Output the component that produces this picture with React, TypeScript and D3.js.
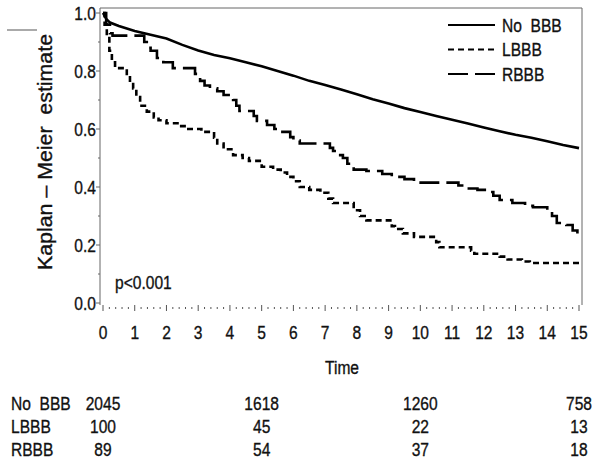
import React from "react";
import * as d3 from "d3";

const noBBBTimes = [0, 0.1, 0.22, 0.5, 1.0, 1.5, 2.0, 2.5, 3.0, 3.5, 4.0, 4.5, 5.0, 5.5, 6.0, 6.5, 7.0, 7.5, 8.0, 8.5, 9.0, 9.5, 10.0, 10.5, 11.0, 11.5, 12.0, 12.5, 13.0, 13.5, 14.0, 14.5, 15.0];
const noBBBValues = [1.0, 0.98, 0.967, 0.955, 0.938, 0.925, 0.912, 0.89, 0.871, 0.855, 0.844, 0.83, 0.816, 0.8, 0.784, 0.766, 0.752, 0.736, 0.72, 0.703, 0.688, 0.672, 0.659, 0.645, 0.632, 0.619, 0.605, 0.592, 0.58, 0.57, 0.558, 0.545, 0.534];

const lbbbTimes = [0, 0.05, 0.12, 0.2, 0.28, 0.38, 0.75, 0.85, 0.95, 1.05, 1.17, 1.38, 1.6, 1.75, 2.0, 2.4, 2.64, 3.1, 3.5, 3.6, 3.8, 4.1, 4.4, 4.6, 5.0, 5.36, 5.6, 5.8, 6.0, 6.2, 6.5, 6.85, 7.1, 7.25, 7.9, 8.1, 8.3, 9.1, 9.2, 9.45, 9.8, 10.5, 10.6, 11.6, 11.7, 12.5, 12.75, 13.2, 13.45, 15.0];
const lbbbValues = [1.0, 0.96, 0.92, 0.87, 0.83, 0.81, 0.79, 0.76, 0.74, 0.71, 0.68, 0.66, 0.64, 0.63, 0.62, 0.61, 0.6, 0.59, 0.57, 0.55, 0.53, 0.51, 0.5, 0.49, 0.47, 0.46, 0.45, 0.435, 0.42, 0.4, 0.39, 0.38, 0.36, 0.345, 0.32, 0.3, 0.285, 0.265, 0.255, 0.24, 0.228, 0.21, 0.192, 0.18, 0.17, 0.16, 0.15, 0.143, 0.138, 0.138];

const rbbbTimes = [0, 0.1, 0.22, 0.3, 1.3, 1.38, 1.5, 1.7, 1.9, 2.2, 2.9, 3.06, 3.2, 3.37, 3.6, 3.8, 4.1, 4.2, 4.3, 4.75, 4.85, 5.17, 5.4, 5.6, 5.9, 6.0, 6.2, 7.15, 7.25, 7.4, 7.56, 7.7, 7.9, 8.3, 8.8, 9.1, 9.5, 9.8, 11.2, 11.47, 11.8, 12.1, 12.3, 12.5, 12.9, 13.3, 13.55, 14.0, 14.15, 14.3, 14.6, 14.8, 14.95, 15.0];
const rbbbValues = [1.0, 0.96, 0.93, 0.922, 0.9, 0.88, 0.87, 0.845, 0.83, 0.81, 0.79, 0.766, 0.75, 0.74, 0.73, 0.717, 0.7, 0.68, 0.662, 0.645, 0.628, 0.614, 0.6, 0.59, 0.572, 0.56, 0.55, 0.535, 0.524, 0.51, 0.5, 0.48, 0.46, 0.455, 0.445, 0.435, 0.427, 0.415, 0.405, 0.395, 0.39, 0.383, 0.37, 0.355, 0.345, 0.335, 0.33, 0.32, 0.3, 0.276, 0.269, 0.25, 0.235, 0.23];

const seriesNames = ["No BBB", "LBBB", "RBBB"];
const xTicks = d3.range(0, 16);
const yTicks = [0.0, 0.2, 0.4, 0.6, 0.8, 1.0];
const riskTimes = [0, 5, 10, 15];
const riskNoBBB = [2045, 1618, 1260, 758];
const riskLBBB = [100, 45, 22, 13];
const riskRBBB = [89, 54, 37, 18];

const FONT = "'Liberation Sans', Arial, sans-serif";
const SX = 0.82;

function NText(props: { x: number; y: number; anchor?: string; size?: number; children: React.ReactNode }) {
  const { x, y, anchor = "start", size = 18, children } = props;
  return (
    <text
      transform={`translate(${x},${y}) scale(${SX},1)`}
      dy="0.36em"
      textAnchor={anchor}
      fontSize={size}
      fill="#111"
      stroke="#111"
      strokeWidth={0.35}
      style={{ whiteSpace: "pre" }}
    >
      {children}
    </text>
  );
}

export default function App() {
  const W = 601, H = 464;
  const left = 100, right = 582, top = 8, bottom = 305;
  const x = d3.scaleLinear().domain([0, 15]).range([103, 579]);
  const y = d3.scaleLinear().domain([0, 1]).range([303, 13]);

  const mk = (ts: number[], vs: number[], curve: d3.CurveFactory) =>
    d3.line<number>().x((_, i) => x(ts[i])).y((v) => y(v)).curve(curve)(vs) || "";

  const solidPath = mk(noBBBTimes, noBBBValues, d3.curveLinear);
  const lPath = mk(lbbbTimes, lbbbValues, d3.curveStepAfter);
  const rPath = mk(rbbbTimes, rbbbValues, d3.curveStepAfter);

  const styles = [
    { dash: undefined as string | undefined, path: solidPath },
    { dash: "6,4", path: lPath },
    { dash: "20,7", path: rPath },
  ];

  const minorX = d3.range(0, 15.001, 0.2);
  const minorY = d3.range(0, 1.001, 0.1);
  const risk = [riskNoBBB, riskLBBB, riskRBBB];
  const riskY = [403, 426, 449];

  return (
    <svg width={W} height={H} style={{ position: "absolute", left: 0, top: 0, background: "#fff" }} fontFamily={FONT}>
      <rect x={0} y={0} width={W} height={H} fill="#fff" />
      <line x1={7} x2={37} y1={30} y2={30} stroke="#aaa" strokeWidth={2} />
      {/* frame */}
      <path d={`M${left},${bottom}V${top}H${right}V${bottom}`} fill="none" stroke="#666" strokeWidth={1} />
      {/* y ticks */}
      {minorY.map((v, i) => (
        <line key={"my" + i} x1={left} x2={left - (i % 2 === 0 ? 4 : 2)} y1={y(v)} y2={y(v)} stroke="#666" strokeWidth={1} />
      ))}
      {yTicks.map((v) => (
        <NText key={"yt" + v} x={96} y={y(v)} anchor="end" size={19}>
          {v.toFixed(1)}
        </NText>
      ))}
      {/* x ticks */}
      {minorX.map((t, i) => (
        <line key={"mx" + i} x1={x(t)} x2={x(t)} y1={i % 5 === 0 ? 305 : 307} y2={i % 5 === 0 ? 311 : 309} stroke="#555" strokeWidth={1} />
      ))}
      {xTicks.map((t) => (
        <NText key={"xt" + t} x={x(t)} y={332} anchor="middle" size={19}>
          {String(t)}
        </NText>
      ))}
      <NText x={342} y={367} anchor="middle" size={19}>Time</NText>
      <text
        transform={`translate(45,152) rotate(-90)`}
        textAnchor="middle"
        dy="0.36em"
        fontSize={20}
        fill="#111"
        stroke="#111"
        strokeWidth={0.35}
        textLength={236}
        lengthAdjust="spacingAndGlyphs"
        style={{ whiteSpace: "pre" }}
      >
        {"Kaplan \u2013 Meier  estimate"}
      </text>
      <NText x={115} y={282} size={19}>{"p<0.001"}</NText>
      {/* curves */}
      <defs>
        <clipPath id="plotclip">
          <rect x={left} y={top} width={right - left} height={bottom - top} />
        </clipPath>
      </defs>
      <g clipPath="url(#plotclip)">
        {styles.map((s, i) => (
          <path key={"c" + i} d={s.path} fill="none" stroke="#000" strokeWidth={2.6} strokeDasharray={s.dash} />
        ))}
      </g>
      {/* legend */}
      {seriesNames.map((n, i) => (
        <g key={"lg" + i}>
          <line x1={448} x2={495} y1={25 + i * 24.5} y2={25 + i * 24.5} stroke="#000" strokeWidth={2} strokeDasharray={styles[i].dash} />
          <NText x={502} y={25 + i * 24.5} size={19}>
            {n === "No BBB" ? "No  BBB" : n}
          </NText>
        </g>
      ))}
      {/* risk table */}
      {seriesNames.map((n, i) => (
        <g key={"rk" + i}>
          <NText x={11} y={riskY[i]} size={19}>
            {n === "No BBB" ? "No  BBB" : n}
          </NText>
          {risk[i].map((v, j) => (
            <NText key={j} x={x(riskTimes[j])} y={riskY[i]} anchor="middle" size={19}>
              {String(v)}
            </NText>
          ))}
        </g>
      ))}
    </svg>
  );
}
